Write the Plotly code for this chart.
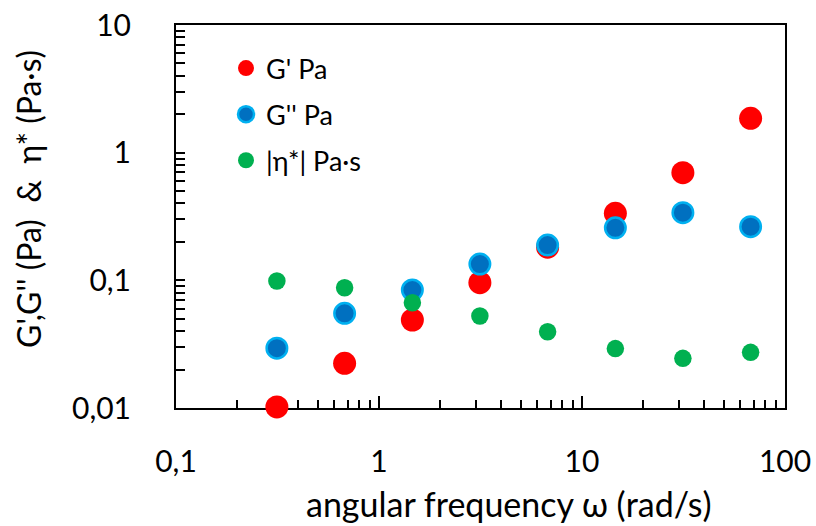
import plotly.graph_objects as go

# ---- data ----
omega = [0.314, 0.677, 1.46, 3.14, 6.77, 14.6, 31.4, 67.7]
g_storage = [0.0102, 0.0224, 0.0489, 0.0959, 0.182, 0.335, 0.697, 1.86]
g_loss = [0.0294, 0.0552, 0.0840, 0.134, 0.189, 0.258, 0.339, 0.263]
eta_complex = [0.0989, 0.0875, 0.0668, 0.0526, 0.0396, 0.0292, 0.0245, 0.0273]

series_names = ["G' Pa", "G'' Pa", "|η*| Pa·s"]
y_tickvals = [0.01, 0.1, 1, 10]
y_ticktext = ["0,01", "0,1", "1", "10"]
x_tickvals = [0.1, 1, 10, 100]
x_ticktext = ["0,1", "1", "10", "100"]

FONT = "Lato"

fig = go.Figure()
fig.add_trace(go.Scatter(
    x=omega, y=g_storage, mode="markers", name=series_names[0],
    legendgroup="a", cliponaxis=False,
    marker=dict(size=23, color="#FF0000", line=dict(width=0)),
))
fig.add_trace(go.Scatter(
    x=omega, y=g_loss, mode="markers", name=series_names[1],
    legendgroup="b", cliponaxis=False,
    marker=dict(size=20.5, color="#0070C0", line=dict(width=2.5, color="#00B0F0")),
))
fig.add_trace(go.Scatter(
    x=omega, y=eta_complex, mode="markers", name=series_names[2],
    legendgroup="c", cliponaxis=False,
    marker=dict(size=17.5, color="#00B050", line=dict(width=0)),
))

minor_vals_x = [m * 10 ** e for e in (-1, 0, 1) for m in range(2, 10)]
minor_vals_y = [m * 10 ** e for e in (-2, -1, 0) for m in range(2, 10)]

fig.update_xaxes(
    type="log", range=[-1, 2], automargin=False, layer="below traces",
    showgrid=False, zeroline=False,
    showline=True, linecolor="black", linewidth=2, mirror=True,
    ticks="inside", ticklen=12, tickwidth=2, tickcolor="black",
    tickvals=x_tickvals, ticktext=x_ticktext,
    ticklabelstandoff=26, ticklabeloverflow="allow",
    tickfont=dict(family=FONT, size=30, color="black"),
    minor=dict(ticks="inside", ticklen=8, tickwidth=2, tickcolor="black",
               tickvals=minor_vals_x, showgrid=False),
)
fig.update_yaxes(
    type="log", range=[-2, 1], automargin=False, layer="below traces",
    showgrid=False, zeroline=False,
    showline=True, linecolor="black", linewidth=2, mirror=True,
    ticks="inside", ticklen=9, tickwidth=2, tickcolor="black",
    tickvals=y_tickvals, ticktext=y_ticktext,
    ticklabelstandoff=37, ticklabeloverflow="allow",
    tickfont=dict(family=FONT, size=30, color="black"),
    minor=dict(ticks="inside", ticklen=9, tickwidth=2, tickcolor="black",
               tickvals=minor_vals_y, showgrid=False),
)

# plot area in page pixels: x 176..785, y 25..408
fig.add_annotation(
    text="angular frequency ω (rad/s)", xref="paper", yref="paper",
    x=(509 - 176) / 609, y=(408 - 503) / 383, xanchor="center", yanchor="middle",
    showarrow=False, font=dict(family=FONT, size=34, color="black"),
)
fig.add_annotation(
    text="G',G'' (Pa)  &  η* (Pa·s)", xref="paper", yref="paper",
    x=(28 - 176) / 609, y=(408 - 199) / 383, xanchor="center", yanchor="middle",
    textangle=-90, showarrow=False, font=dict(family=FONT, size=32, color="black"),
)

fig.update_layout(
    width=816, height=526,
    margin=dict(l=176, r=31, t=25, b=118),
    paper_bgcolor="white", plot_bgcolor="white",
    font=dict(family=FONT, color="black"),
    showlegend=True,
    legend=dict(
        x=(226 - 176) / 609, y=(408 - 44) / 383, xanchor="left", yanchor="top",
        bgcolor="rgba(0,0,0,0)", borderwidth=0,
        font=dict(family=FONT, size=27, color="black"),
        tracegroupgap=8, itemsizing="trace",
    ),
)

# remove the browser's default 8px body margin so the figure fills the window exactly
fig.write_html(
    "out.html",
    config={"displayModeBar": False},
    post_script="document.body.style.margin='0';document.body.style.overflow='hidden';",
)
